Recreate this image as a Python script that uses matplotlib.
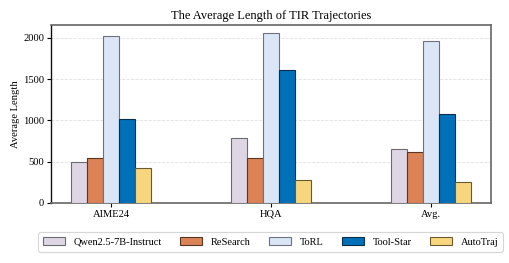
import matplotlib
matplotlib.use("Agg")
import matplotlib.pyplot as plt
import numpy as np

plt.rcParams['font.family'] = ['Liberation Serif', 'DejaVu Serif']

categories = ["AIME24", "HQA", "Avg."]
methods = ["Qwen2.5-7B-Instruct", "ReSearch", "ToRL", "Tool-Star", "AutoTraj"]
qwen = [492, 785, 652]
research = [545, 540, 614]
torl = [2018, 2055, 1967]
toolstar = [1022, 1610, 1080]
autotraj = [424, 275, 251]
series = [qwen, research, torl, toolstar, autotraj]

colors = ["#DED6E4", "#DB8357", "#DAE5F6", "#0070B8", "#F7D67E"]
edges = ["#6E6A72", "#5A3524", "#6E7280", "#0B2F4F", "#6A5A30"]

fig = plt.figure(figsize=(5.10, 2.63), dpi=100)
ax = fig.add_axes([51/510, 1-203/263, 440/510, 178/263])

x = np.arange(len(categories))
w = 0.1
for i, (vals, c, e, m) in enumerate(zip(series, colors, edges, methods)):
    ax.bar(x + (i - 2) * w, vals, width=w, color=c, edgecolor=e, linewidth=0.8,
           label=m, zorder=3)

ax.set_xlim(-0.375, 2.375)
ax.set_ylim(0, 2155)
ax.set_xticks(x)
ax.set_xticklabels(categories, fontsize=7.6)
ax.set_yticks([0, 500, 1000, 1500, 2000])
ax.tick_params(axis='y', labelsize=7.6, length=3, width=0.8, pad=2)
ax.tick_params(axis='x', length=3, width=0.8, pad=2)
ax.set_ylabel("Average Length", fontsize=7.6, labelpad=2)
ax.set_title("The Average Length of TIR Trajectories", fontsize=9, pad=4)
ax.grid(axis='y', linestyle='--', color='#E2E2E2', linewidth=0.6, zorder=0)
ax.set_axisbelow(True)
for s in ['top', 'right', 'bottom']:
    ax.spines[s].set_color('#666666')
    ax.spines[s].set_linewidth(1.2)
ax.spines['left'].set_color('#111111')
ax.spines['left'].set_linewidth(1.0)

leg = fig.legend(loc='center', bbox_to_anchor=(270.5/510, 1-242/263), ncol=5,
                 fontsize=7.5, frameon=True, handlelength=2.1, handleheight=0.85,
                 columnspacing=1.75, handletextpad=0.85, borderpad=0.45,
                 fancybox=True)
leg.get_frame().set_edgecolor('#CCCCCC')
leg.get_frame().set_linewidth(0.8)

fig.savefig("out.png", dpi=100)
